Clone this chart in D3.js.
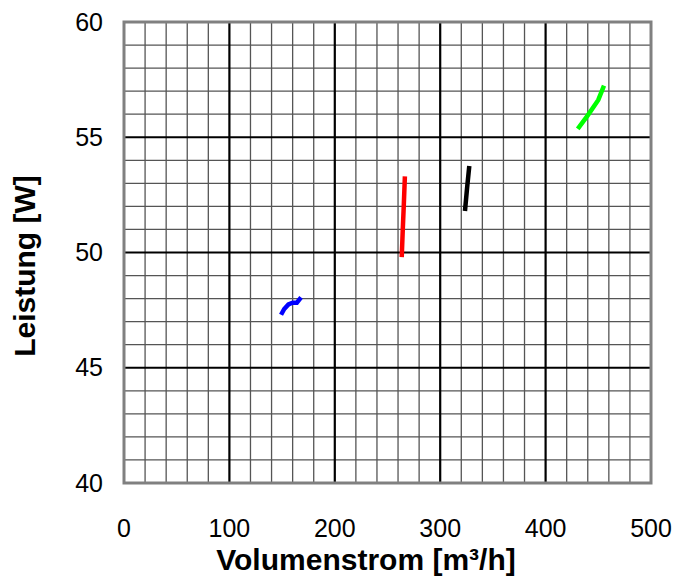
<!DOCTYPE html>
<html><head><meta charset="utf-8">
<script src="https://cdn.jsdelivr.net/npm/d3@7"></script>
<style>body{margin:0;background:#fff}svg{display:block}</style>
</head><body>
<svg id="c" width="675" height="579"></svg>
<script>
const xTicks = [0, 100, 200, 300, 400, 500];
const yTicks = [40, 45, 50, 55, 60];
const blueX = [149, 152, 156, 160, 164, 168];
const blueY = [47.3, 47.55, 47.75, 47.82, 47.82, 48.05];
const redX = [263.5, 264.5, 265.5, 266.5];
const redY = [49.8, 51.0, 52.1, 53.3];
const blackX = [323.5, 325.5, 327.6];
const blackY = [51.8, 52.8, 53.75];
const greenX = [430.5, 440, 450, 455.4];
const greenY = [55.36, 55.95, 56.62, 57.24];
const series = [
  {name: "blue", color: "#0000ff", x: blueX, y: blueY},
  {name: "red", color: "#ff0000", x: redX, y: redY},
  {name: "black", color: "#000000", x: blackX, y: blackY},
  {name: "green", color: "#00ff00", x: greenX, y: greenY}
];

const svg = d3.select("#c");
const L = 124, R = 651, T = 22, B = 483;
const x = d3.scaleLinear().domain([0, 500]).range([L, R]);
const y = d3.scaleLinear().domain([40, 60]).range([B, T]);
const FONT = "Liberation Sans, Arial, sans-serif";

const g = svg.append("g");
g.selectAll("line.vx").data(d3.range(20, 500, 20).filter(v => v % 100 !== 0)).join("line")
  .attr("x1", d => x(d)).attr("x2", d => x(d)).attr("y1", T).attr("y2", B)
  .attr("stroke", "#555").attr("stroke-width", 1.3);
g.selectAll("line.hy").data(d3.range(41, 60, 1).filter(v => v % 5 !== 0)).join("line")
  .attr("y1", d => y(d)).attr("y2", d => y(d)).attr("x1", L).attr("x2", R)
  .attr("stroke", "#555").attr("stroke-width", 1.3);
g.selectAll("line.mx").data(xTicks.slice(1, -1)).join("line")
  .attr("x1", d => x(d)).attr("x2", d => x(d)).attr("y1", T).attr("y2", B)
  .attr("stroke", "#000").attr("stroke-width", 2.2);
g.selectAll("line.my").data(yTicks.slice(1, -1)).join("line")
  .attr("y1", d => y(d)).attr("y2", d => y(d)).attr("x1", L).attr("x2", R)
  .attr("stroke", "#000").attr("stroke-width", 2.2);
g.append("rect").attr("x", L).attr("y", T).attr("width", R - L).attr("height", B - T)
  .attr("fill", "none").attr("stroke", "#808080").attr("stroke-width", 3);

const line = d3.line().x(d => x(d[0])).y(d => y(d[1]));
series.forEach(s => {
  svg.append("path").datum(s.x.map((v, i) => [v, s.y[i]]))
    .attr("d", line).attr("fill", "none").attr("stroke", s.color)
    .attr("stroke-width", 4.5);
});

svg.selectAll("text.xt").data(xTicks).join("text")
  .attr("x", d => x(d)).attr("y", 537).attr("text-anchor", "middle")
  .attr("font-family", FONT).attr("font-size", 25)
  .text(d => d);
svg.selectAll("text.yt").data(yTicks).join("text")
  .attr("x", 103).attr("y", d => y(d) + 8.5).attr("text-anchor", "end")
  .attr("font-family", FONT).attr("font-size", 25)
  .text(d => d);

svg.append("text").attr("x", 366).attr("y", 570).attr("text-anchor", "middle")
  .attr("font-family", FONT).attr("font-size", 30)
  .attr("font-weight", "bold").text("Volumenstrom [m³/h]");
svg.append("text").attr("transform", "translate(35,266) rotate(-90)").attr("text-anchor", "middle")
  .attr("font-family", FONT).attr("font-size", 30)
  .attr("font-weight", "bold").text("Leistung [W]");
</script>
</body></html>
